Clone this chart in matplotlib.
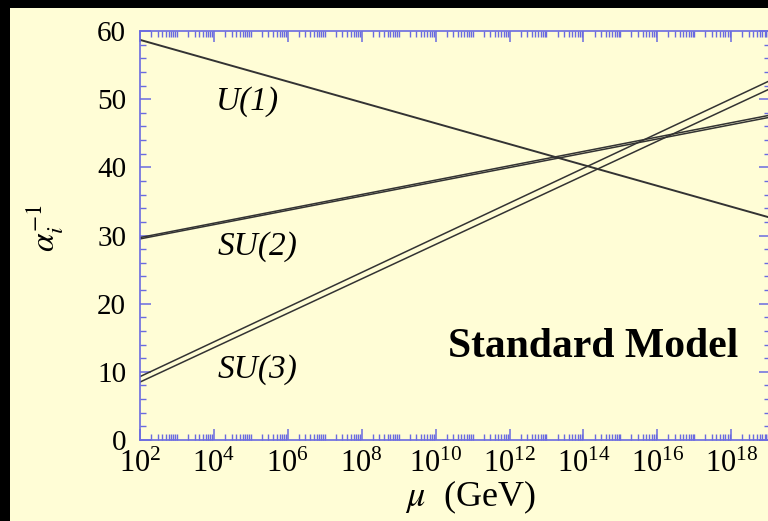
import matplotlib
matplotlib.use("Agg")
import matplotlib.pyplot as plt
import matplotlib.ticker as mticker
from matplotlib.patches import Rectangle
import numpy as np

# Data: log10(mu/GeV) endpoints and inverse couplings
log_mu = [2, 19]
u1 = [58.7, 32.7]
su2_a = [29.7, 47.6]
su2_b = [29.5, 47.3]
su3_upper = [9.3, 52.6]
su3_lower = [8.5, 51.4]
x_ticks = [1e2, 1e4, 1e6, 1e8, 1e10, 1e12, 1e14, 1e16, 1e18]
y_ticks = [0, 10, 20, 30, 40, 50, 60]

plt.rcParams['mathtext.fontset'] = 'stix'
plt.rcParams['font.family'] = ['Liberation Serif', 'DejaVu Serif']

BG = '#FFFDD6'
SPINE = '#6A6AE0'

fig = plt.figure(figsize=(7.68, 5.21), dpi=100, facecolor='black')
fig.patches.append(Rectangle((10/768, 0), 1, 1 - 8/521, transform=fig.transFigure,
                             facecolor=BG, edgecolor='none', zorder=-10))

ax = fig.add_axes([140/768, (521-440)/521, 630/768, (440-31)/521])
ax.set_zorder(5)
ax.set_facecolor(BG)
ax.set_xscale('log')
ax.set_xlim(1e2, 10**19.05)
ax.set_ylim(0, 60)

mu = [10**v for v in log_mu]
lc = '#333333'
ax.plot(mu, u1, color=lc, lw=1.4)
ax.plot(mu, su2_a, color=lc, lw=1.1)
ax.plot(mu, su2_b, color=lc, lw=1.1)
ax.plot(mu, su3_upper, color=lc, lw=1.1)
ax.plot(mu, su3_lower, color=lc, lw=1.1)

for s in ax.spines.values():
    s.set_color(SPINE)
    s.set_linewidth(1.2)

ax.xaxis.set_major_locator(mticker.FixedLocator(x_ticks))
ax.xaxis.set_major_formatter(mticker.LogFormatterMathtext())
ax.xaxis.set_minor_locator(mticker.LogLocator(base=10, subs=np.arange(1, 10), numticks=100))
ax.xaxis.set_minor_formatter(mticker.NullFormatter())
ax.yaxis.set_major_locator(mticker.FixedLocator(y_ticks))
ax.yaxis.set_minor_locator(mticker.MultipleLocator(2))

ax.tick_params(which='both', direction='in', top=True, right=True, color=SPINE,
               labelcolor='black')
ax.tick_params(which='major', length=8, width=1.1)
ax.tick_params(which='minor', length=4.5, width=1.0)
ax.tick_params(axis='y', pad=10, labelsize=21)
ax.tick_params(axis='x', pad=7, labelsize=22)

ax.set_xlabel(r'$\mu$  (GeV)', fontsize=26)
ax.xaxis.set_label_coords((470-140)/630, -(497-440)/409)
ax.xaxis.label.set_va('center')
ax.set_ylabel(r'$\alpha_i^{-1}$', fontsize=24)
ax.yaxis.set_label_coords((45-140)/630, (440-228)/409)
ax.yaxis.label.set_va('center')

ax.text(1e2 * 10**((248-140)/37.06), 49.7, 'U(1)', fontsize=24, style='italic', va='center', ha='center')
ax.text(1e2 * 10**((258-140)/37.06), 28.4, 'SU(2)', fontsize=24, style='italic', va='center', ha='center')
ax.text(1e2 * 10**((258-140)/37.06), 10.4, 'SU(3)', fontsize=24, style='italic', va='center', ha='center')
ax.text(1e2 * 10**((594-140)/37.06), 13.6, 'Standard Model', fontsize=30, weight='bold',
        va='center', ha='center')

fig.savefig('out.png', dpi=100, facecolor='black')
